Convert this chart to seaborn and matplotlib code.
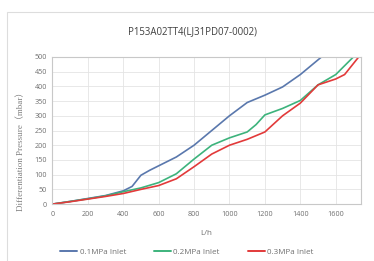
import pandas as pd
import matplotlib.pyplot as plt
import seaborn as sns
from matplotlib.patches import Rectangle

# Data
flow_01 = [0, 100, 200, 300, 400, 450, 500, 550, 600, 700, 800, 900, 1000, 1100, 1200, 1300, 1400, 1450, 1520]
dp_01 = [0, 9, 19, 29, 45, 60, 98, 115, 130, 160, 200, 250, 300, 345, 370, 398, 440, 465, 500]

flow_02 = [0, 100, 200, 300, 400, 500, 600, 700, 800, 900, 1000, 1100, 1150, 1200, 1300, 1400, 1500, 1600, 1700]
dp_02 = [0, 9, 18, 28, 42, 55, 73, 103, 153, 200, 225, 245, 270, 303, 325, 352, 405, 440, 500]

flow_03 = [0, 100, 200, 300, 400, 500, 600, 700, 800, 900, 1000, 1100, 1200, 1300, 1400, 1500, 1600, 1650, 1730]
dp_03 = [0, 8, 17, 26, 36, 50, 63, 86, 127, 170, 200, 220, 245, 300, 343, 405, 425, 440, 500]

series_names = ['0.1MPa Inlet', '0.2MPa Inlet', '0.3MPa Inlet']
colors = ['#5a78ad', '#3db37c', '#e23a3a']

frames = []
for name, fl, dp in zip(series_names, [flow_01, flow_02, flow_03], [dp_01, dp_02, dp_03]):
    frames.append(pd.DataFrame({'flow': fl, 'dp': dp, 'series': name}))
df = pd.concat(frames, ignore_index=True)

sns.set_style('white')
plt.rcParams['font.family'] = ['Open Sans', 'DejaVu Sans']

fig = plt.figure(figsize=(3.74, 2.61), dpi=100)
ax = fig.add_axes([0.140, 0.218, 0.824, 0.564])

# faint chart border like the spreadsheet chart area
fig.patches.append(Rectangle((7 / 374, -0.1), 1.2, 1.1 - 12 / 261, transform=fig.transFigure,
                             fill=False, edgecolor='#dddddd', linewidth=0.8))

sns.lineplot(data=df, x='flow', y='dp', hue='series', palette=colors, sort=False,
             estimator=None, linewidth=1.2, ax=ax, legend=False)

ax.set_xlim(0, 1740)
ax.set_ylim(0, 500)
ax.set_xticks(range(0, 1700, 200))
ax.set_yticks(range(0, 501, 50))
ax.grid(True, color='#e4e4e4', linewidth=0.6)
for s in ax.spines.values():
    s.set_color('#c8c8c8')
    s.set_linewidth(0.8)
ax.tick_params(axis='both', labelsize=5.2, colors='#707070', length=0)
ax.tick_params(axis='x', pad=5)
ax.tick_params(axis='y', pad=4)

ax.set_xlabel('L/h', fontsize=5.8, color='#707070')
ax.xaxis.set_label_coords(0.5, -0.175)
ax.set_ylabel('Differentiation Pressure\uff08mbar\uff09', fontsize=6.5, color='#808080',
              family=['Liberation Serif', 'Noto Sans CJK SC'])
ax.yaxis.set_label_coords(-0.089, 0.375)
fig.text(0.515, 0.88, 'P153A02TT4(LJ31PD07-0002)', ha='center', va='center',
         fontsize=6.9, color='#404040')

handles = [plt.Line2D([], [], color=c, linewidth=1.4) for c in colors]
fig.legend(handles, series_names, loc='center', bbox_to_anchor=(0.5, 0.035), ncol=3,
           frameon=False, fontsize=5.8, labelcolor='#707070', handlelength=2.1,
           columnspacing=3.5, handletextpad=0.3)

fig.savefig('out.png', dpi=100)
